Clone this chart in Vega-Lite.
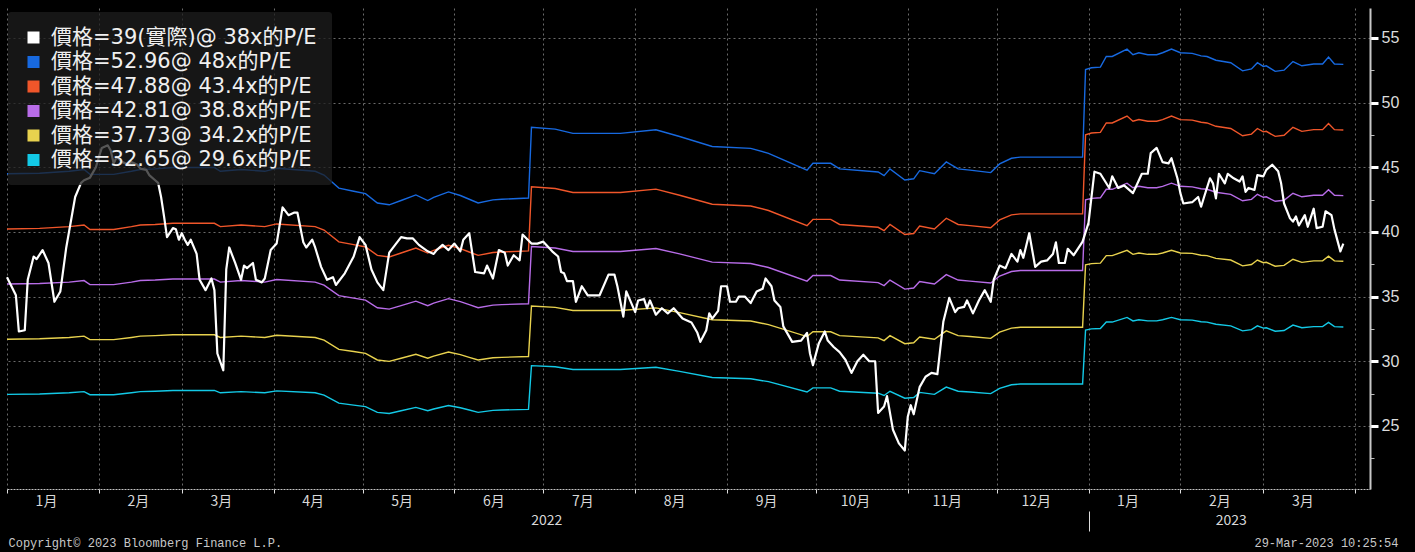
{
  "$schema": "https://vega.github.io/schema/vega-lite/v6.json",
  "width": 1363,
  "height": 481,
  "autosize": {"type": "none"},
  "padding": {"left": 7, "top": 8, "right": 45, "bottom": 63},
  "background": "#000000",
  "config": {"view": {"stroke": null}},
  "data": {"values": [
    {"t":"2022-01-01","w":36.5},{"t":"2022-01-04","w":35.1},{"t":"2022-01-05","w":32.3},{"t":"2022-01-07","w":32.4},{"t":"2022-01-08","w":36.3},{"t":"2022-01-10","w":38.1},{"t":"2022-01-11","w":37.9},{"t":"2022-01-13","w":38.6},{"t":"2022-01-15","w":37.6},{"t":"2022-01-17","w":34.6},{"t":"2022-01-19","w":35.4},{"t":"2022-01-21","w":38.8},{"t":"2022-01-24","w":42.7},{"t":"2022-01-26","w":43.8},{"t":"2022-01-27","w":44.0},{"t":"2022-01-29","w":44.2},{"t":"2022-01-31","w":45.0},
    {"t":"2022-02-01","w":45.8},{"t":"2022-02-02","w":46.5},{"t":"2022-02-04","w":46.7},{"t":"2022-02-05","w":46.3},{"t":"2022-02-06","w":45.3},{"t":"2022-02-07","w":45.8},{"t":"2022-02-09","w":45.4},{"t":"2022-02-11","w":45.2},{"t":"2022-02-12","w":45.4},{"t":"2022-02-14","w":45.2},{"t":"2022-02-15","w":44.9},{"t":"2022-02-17","w":44.8},{"t":"2022-02-18","w":44.4},{"t":"2022-02-20","w":44.0},{"t":"2022-02-21","w":43.8},{"t":"2022-02-22","w":42.7},{"t":"2022-02-23","w":41.2},{"t":"2022-02-24","w":39.6},{"t":"2022-02-26","w":40.3},{"t":"2022-02-27","w":40.2},{"t":"2022-02-28","w":39.4},
    {"t":"2022-03-01","w":39.9},{"t":"2022-03-02","w":39.4},{"t":"2022-03-03","w":39.0},{"t":"2022-03-04","w":39.4},{"t":"2022-03-06","w":38.3},{"t":"2022-03-07","w":36.3},{"t":"2022-03-09","w":35.5},{"t":"2022-03-11","w":36.4},{"t":"2022-03-12","w":35.5},{"t":"2022-03-13","w":30.6},{"t":"2022-03-15","w":29.3},{"t":"2022-03-16","w":37.1},{"t":"2022-03-17","w":38.8},{"t":"2022-03-19","w":37.6},{"t":"2022-03-21","w":36.3},{"t":"2022-03-22","w":37.4},{"t":"2022-03-23","w":37.2},{"t":"2022-03-25","w":37.6},{"t":"2022-03-26","w":36.3},{"t":"2022-03-28","w":36.1},{"t":"2022-03-29","w":36.4},{"t":"2022-03-31","w":38.6},
    {"t":"2022-04-02","w":39.1},{"t":"2022-04-04","w":41.9},{"t":"2022-04-06","w":41.3},{"t":"2022-04-08","w":41.5},{"t":"2022-04-09","w":41.5},{"t":"2022-04-11","w":39.2},{"t":"2022-04-12","w":38.8},{"t":"2022-04-14","w":39.4},{"t":"2022-04-15","w":38.8},{"t":"2022-04-17","w":37.3},{"t":"2022-04-19","w":36.3},{"t":"2022-04-21","w":36.5},{"t":"2022-04-22","w":35.9},{"t":"2022-04-25","w":36.8},{"t":"2022-04-28","w":38.1},{"t":"2022-04-30","w":39.6},
    {"t":"2022-05-02","w":39.0},{"t":"2022-05-04","w":37.1},{"t":"2022-05-06","w":36.1},{"t":"2022-05-08","w":35.5},{"t":"2022-05-10","w":38.4},{"t":"2022-05-12","w":39.0},{"t":"2022-05-14","w":39.6},{"t":"2022-05-16","w":39.5},{"t":"2022-05-18","w":39.5},{"t":"2022-05-20","w":39.0},{"t":"2022-05-23","w":38.5},{"t":"2022-05-25","w":38.3},{"t":"2022-05-26","w":38.6},{"t":"2022-05-28","w":39.0},{"t":"2022-05-30","w":38.6},
    {"t":"2022-06-01","w":39.1},{"t":"2022-06-03","w":38.5},{"t":"2022-06-04","w":39.4},{"t":"2022-06-06","w":39.9},{"t":"2022-06-08","w":36.9},{"t":"2022-06-11","w":36.8},{"t":"2022-06-12","w":37.4},{"t":"2022-06-14","w":36.4},{"t":"2022-06-16","w":38.6},{"t":"2022-06-18","w":38.4},{"t":"2022-06-19","w":37.4},{"t":"2022-06-21","w":38.2},{"t":"2022-06-23","w":37.8},{"t":"2022-06-24","w":39.8},{"t":"2022-06-27","w":39.1},{"t":"2022-06-29","w":39.1},
    {"t":"2022-07-01","w":39.25},{"t":"2022-07-04","w":38.5},{"t":"2022-07-06","w":38.1},{"t":"2022-07-07","w":36.9},{"t":"2022-07-08","w":36.8},{"t":"2022-07-09","w":36.2},{"t":"2022-07-11","w":36.2},{"t":"2022-07-12","w":34.6},{"t":"2022-07-14","w":35.8},{"t":"2022-07-16","w":35.1},{"t":"2022-07-20","w":35.1},{"t":"2022-07-23","w":36.7},{"t":"2022-07-25","w":36.7},{"t":"2022-07-26","w":35.8},{"t":"2022-07-28","w":33.45},{"t":"2022-07-29","w":35.4},
    {"t":"2022-08-01","w":33.8},{"t":"2022-08-02","w":34.7},{"t":"2022-08-04","w":34.8},{"t":"2022-08-05","w":34.1},{"t":"2022-08-06","w":34.7},{"t":"2022-08-08","w":33.6},{"t":"2022-08-10","w":34.1},{"t":"2022-08-12","w":33.7},{"t":"2022-08-14","w":34.1},{"t":"2022-08-17","w":33.3},{"t":"2022-08-20","w":33.0},{"t":"2022-08-22","w":32.2},{"t":"2022-08-23","w":31.5},{"t":"2022-08-25","w":32.4},{"t":"2022-08-26","w":33.7},{"t":"2022-08-27","w":33.3},{"t":"2022-08-29","w":33.9},{"t":"2022-08-30","w":35.8},
    {"t":"2022-09-01","w":35.8},{"t":"2022-09-02","w":34.6},{"t":"2022-09-04","w":34.6},{"t":"2022-09-05","w":35.0},{"t":"2022-09-07","w":35.0},{"t":"2022-09-09","w":34.5},{"t":"2022-09-11","w":35.4},{"t":"2022-09-13","w":35.6},{"t":"2022-09-14","w":36.4},{"t":"2022-09-16","w":35.8},{"t":"2022-09-17","w":34.7},{"t":"2022-09-19","w":34.2},{"t":"2022-09-20","w":32.7},{"t":"2022-09-23","w":31.5},{"t":"2022-09-26","w":31.6},{"t":"2022-09-28","w":32.2},{"t":"2022-09-29","w":30.6},{"t":"2022-09-30","w":29.7},
    {"t":"2022-10-02","w":31.4},{"t":"2022-10-04","w":32.3},{"t":"2022-10-05","w":31.6},{"t":"2022-10-07","w":31.1},{"t":"2022-10-09","w":30.7},{"t":"2022-10-11","w":30.1},{"t":"2022-10-13","w":29.1},{"t":"2022-10-15","w":30.0},{"t":"2022-10-17","w":30.5},{"t":"2022-10-19","w":30.0},{"t":"2022-10-21","w":30.0},{"t":"2022-10-22","w":26.0},{"t":"2022-10-24","w":26.5},{"t":"2022-10-25","w":27.3},{"t":"2022-10-27","w":24.7},{"t":"2022-10-29","w":23.65},{"t":"2022-10-31","w":23.1},
    {"t":"2022-11-01","w":25.7},{"t":"2022-11-02","w":26.6},{"t":"2022-11-03","w":25.9},{"t":"2022-11-05","w":28.0},{"t":"2022-11-07","w":28.8},{"t":"2022-11-09","w":29.1},{"t":"2022-11-11","w":29.0},{"t":"2022-11-13","w":33.05},{"t":"2022-11-15","w":34.9},{"t":"2022-11-17","w":33.8},{"t":"2022-11-18","w":34.1},{"t":"2022-11-20","w":34.2},{"t":"2022-11-21","w":34.7},{"t":"2022-11-23","w":33.7},{"t":"2022-11-25","w":34.7},{"t":"2022-11-27","w":35.5},{"t":"2022-11-29","w":34.6},{"t":"2022-11-30","w":36.3},
    {"t":"2022-12-02","w":37.4},{"t":"2022-12-04","w":37.2},{"t":"2022-12-06","w":38.3},{"t":"2022-12-08","w":37.7},{"t":"2022-12-09","w":38.6},{"t":"2022-12-10","w":38.0},{"t":"2022-12-12","w":39.9},{"t":"2022-12-14","w":37.3},{"t":"2022-12-16","w":37.7},{"t":"2022-12-18","w":37.8},{"t":"2022-12-20","w":38.3},{"t":"2022-12-21","w":39.2},{"t":"2022-12-22","w":37.6},{"t":"2022-12-24","w":37.6},{"t":"2022-12-25","w":38.7},{"t":"2022-12-27","w":38.2},{"t":"2022-12-29","w":38.9},{"t":"2022-12-30","w":39.25},
    {"t":"2023-01-01","w":40.7},{"t":"2023-01-02","w":42.7},{"t":"2023-01-03","w":44.66},{"t":"2023-01-05","w":44.5},{"t":"2023-01-08","w":43.4},{"t":"2023-01-09","w":44.3},{"t":"2023-01-11","w":43.4},{"t":"2023-01-13","w":43.6},{"t":"2023-01-16","w":43.0},{"t":"2023-01-17","w":43.5},{"t":"2023-01-19","w":44.5},{"t":"2023-01-21","w":44.5},{"t":"2023-01-22","w":46.1},{"t":"2023-01-24","w":46.5},{"t":"2023-01-26","w":45.4},{"t":"2023-01-28","w":45.3},{"t":"2023-01-29","w":45.7},{"t":"2023-01-31","w":44.15},
    {"t":"2023-02-01","w":43.0},{"t":"2023-02-02","w":42.2},{"t":"2023-02-05","w":42.3},{"t":"2023-02-07","w":42.7},{"t":"2023-02-08","w":41.95},{"t":"2023-02-09","w":42.7},{"t":"2023-02-11","w":44.15},{"t":"2023-02-12","w":43.76},{"t":"2023-02-13","w":42.6},{"t":"2023-02-14","w":44.5},{"t":"2023-02-16","w":43.76},{"t":"2023-02-17","w":44.5},{"t":"2023-02-19","w":44.15},{"t":"2023-02-21","w":43.9},{"t":"2023-02-22","w":44.3},{"t":"2023-02-23","w":43.1},{"t":"2023-02-24","w":43.4},{"t":"2023-02-26","w":43.25},{"t":"2023-02-27","w":44.4},
    {"t":"2023-03-01","w":44.3},{"t":"2023-03-02","w":44.8},{"t":"2023-03-04","w":45.2},{"t":"2023-03-06","w":44.7},{"t":"2023-03-07","w":43.76},{"t":"2023-03-08","w":42.2},{"t":"2023-03-10","w":41.05},{"t":"2023-03-11","w":40.8},{"t":"2023-03-12","w":41.2},{"t":"2023-03-13","w":40.5},{"t":"2023-03-15","w":41.3},{"t":"2023-03-16","w":40.4},{"t":"2023-03-18","w":41.8},{"t":"2023-03-19","w":40.3},{"t":"2023-03-21","w":40.4},{"t":"2023-03-22","w":41.6},{"t":"2023-03-24","w":41.3},{"t":"2023-03-25","w":40.2},{"t":"2023-03-27","w":38.5},{"t":"2023-03-28","w":39.1},
    {"t":"2022-01-01","b":44.50,"o":40.23,"p":35.97,"yl":31.70,"c":27.44},
    {"t":"2022-01-12","b":44.54,"o":40.28,"p":36.01,"yl":31.74,"c":27.47},
    {"t":"2022-01-22","b":44.69,"o":40.41,"p":36.12,"yl":31.84,"c":27.56},
    {"t":"2022-01-27","b":44.83,"o":40.54,"p":36.24,"yl":31.94,"c":27.65},
    {"t":"2022-01-29","b":44.45,"o":40.19,"p":35.93,"yl":31.67,"c":27.41},
    {"t":"2022-02-06","b":44.45,"o":40.19,"p":35.93,"yl":31.67,"c":27.41},
    {"t":"2022-02-12","b":44.69,"o":40.41,"p":36.12,"yl":31.84,"c":27.56},
    {"t":"2022-02-15","b":44.83,"o":40.54,"p":36.24,"yl":31.94,"c":27.65},
    {"t":"2022-02-20","b":44.88,"o":40.58,"p":36.28,"yl":31.98,"c":27.68},
    {"t":"2022-02-26","b":44.98,"o":40.67,"p":36.36,"yl":32.05,"c":27.74},
    {"t":"2022-03-12","b":44.98,"o":40.67,"p":36.36,"yl":32.05,"c":27.74},
    {"t":"2022-03-14","b":44.69,"o":40.41,"p":36.12,"yl":31.84,"c":27.56},
    {"t":"2022-03-21","b":44.83,"o":40.54,"p":36.24,"yl":31.94,"c":27.65},
    {"t":"2022-03-29","b":44.69,"o":40.41,"p":36.12,"yl":31.84,"c":27.56},
    {"t":"2022-04-02","b":44.93,"o":40.62,"p":36.32,"yl":32.01,"c":27.71},
    {"t":"2022-04-15","b":44.69,"o":40.41,"p":36.12,"yl":31.84,"c":27.56},
    {"t":"2022-04-18","b":44.40,"o":40.15,"p":35.89,"yl":31.64,"c":27.38},
    {"t":"2022-04-23","b":43.39,"o":39.23,"p":35.08,"yl":30.92,"c":26.76},
    {"t":"2022-04-28","b":43.15,"o":39.02,"p":34.88,"yl":30.75,"c":26.61},
    {"t":"2022-05-02","b":42.96,"o":38.84,"p":34.73,"yl":30.61,"c":26.49},
    {"t":"2022-05-06","b":42.24,"o":38.19,"p":34.14,"yl":30.10,"c":26.05},
    {"t":"2022-05-10","b":42.10,"o":38.06,"p":34.03,"yl":29.99,"c":25.96},
    {"t":"2022-05-14","b":42.43,"o":38.37,"p":34.30,"yl":30.23,"c":26.17},
    {"t":"2022-05-19","b":42.86,"o":38.76,"p":34.65,"yl":30.54,"c":26.43},
    {"t":"2022-05-23","b":42.43,"o":38.37,"p":34.30,"yl":30.23,"c":26.17},
    {"t":"2022-05-25","b":42.67,"o":38.58,"p":34.49,"yl":30.40,"c":26.31},
    {"t":"2022-05-30","b":43.10,"o":38.97,"p":34.84,"yl":30.71,"c":26.58},
    {"t":"2022-06-03","b":42.82,"o":38.71,"p":34.61,"yl":30.51,"c":26.40},
    {"t":"2022-06-06","b":42.53,"o":38.45,"p":34.38,"yl":30.30,"c":26.23},
    {"t":"2022-06-09","b":42.24,"o":38.19,"p":34.14,"yl":30.10,"c":26.05},
    {"t":"2022-06-14","b":42.48,"o":38.41,"p":34.34,"yl":30.27,"c":26.20},
    {"t":"2022-06-17","b":42.53,"o":38.45,"p":34.38,"yl":30.30,"c":26.23},
    {"t":"2022-06-26","b":42.62,"o":38.54,"p":34.45,"yl":30.37,"c":26.28},
    {"t":"2022-06-27","b":48.10,"o":43.49,"p":38.88,"yl":34.27,"c":29.66},
    {"t":"2022-07-05","b":47.95,"o":43.36,"p":38.76,"yl":34.17,"c":29.57},
    {"t":"2022-07-11","b":47.62,"o":43.05,"p":38.49,"yl":33.93,"c":29.36},
    {"t":"2022-07-27","b":47.62,"o":43.05,"p":38.49,"yl":33.93,"c":29.36},
    {"t":"2022-08-08","b":47.90,"o":43.31,"p":38.72,"yl":34.13,"c":29.54},
    {"t":"2022-08-16","b":47.38,"o":42.84,"p":38.30,"yl":33.76,"c":29.22},
    {"t":"2022-08-27","b":46.61,"o":42.14,"p":37.67,"yl":33.21,"c":28.74},
    {"t":"2022-09-09","b":46.46,"o":42.01,"p":37.56,"yl":33.11,"c":28.65},
    {"t":"2022-09-15","b":46.08,"o":41.66,"p":37.25,"yl":32.83,"c":28.42},
    {"t":"2022-09-28","b":44.78,"o":40.49,"p":36.20,"yl":31.91,"c":27.62},
    {"t":"2022-09-30","b":45.31,"o":40.97,"p":36.63,"yl":32.28,"c":27.94},
    {"t":"2022-10-06","b":45.31,"o":40.97,"p":36.63,"yl":32.28,"c":27.94},
    {"t":"2022-10-09","b":44.88,"o":40.58,"p":36.28,"yl":31.98,"c":27.68},
    {"t":"2022-10-22","b":44.64,"o":40.36,"p":36.08,"yl":31.81,"c":27.53},
    {"t":"2022-10-24","b":44.35,"o":40.10,"p":35.85,"yl":31.60,"c":27.35},
    {"t":"2022-10-26","b":44.88,"o":40.58,"p":36.28,"yl":31.98,"c":27.68},
    {"t":"2022-10-31","b":44.02,"o":39.80,"p":35.58,"yl":31.36,"c":27.14},
    {"t":"2022-11-03","b":44.11,"o":39.88,"p":35.66,"yl":31.43,"c":27.20},
    {"t":"2022-11-05","b":44.74,"o":40.45,"p":36.16,"yl":31.87,"c":27.59},
    {"t":"2022-11-10","b":44.50,"o":40.23,"p":35.97,"yl":31.70,"c":27.44},
    {"t":"2022-11-14","b":45.41,"o":41.06,"p":36.70,"yl":32.35,"c":28.00},
    {"t":"2022-11-18","b":44.88,"o":40.58,"p":36.28,"yl":31.98,"c":27.68},
    {"t":"2022-11-22","b":44.78,"o":40.49,"p":36.20,"yl":31.91,"c":27.62},
    {"t":"2022-11-29","b":44.59,"o":40.32,"p":36.05,"yl":31.77,"c":27.50},
    {"t":"2022-12-02","b":45.26,"o":40.93,"p":36.59,"yl":32.25,"c":27.91},
    {"t":"2022-12-06","b":45.70,"o":41.32,"p":36.94,"yl":32.56,"c":28.18},
    {"t":"2022-12-09","b":45.79,"o":41.40,"p":37.02,"yl":32.63,"c":28.24},
    {"t":"2022-12-30","b":45.79,"o":41.40,"p":37.02,"yl":32.63,"c":28.24},
    {"t":"2022-12-31","b":52.56,"o":47.52,"p":42.49,"yl":37.45,"c":32.41},
    {"t":"2023-01-02","b":52.70,"o":47.65,"p":42.60,"yl":37.55,"c":32.50},
    {"t":"2023-01-05","b":52.75,"o":47.70,"p":42.64,"yl":37.59,"c":32.53},
    {"t":"2023-01-07","b":53.57,"o":48.43,"p":43.30,"yl":38.17,"c":33.03},
    {"t":"2023-01-09","b":53.57,"o":48.43,"p":43.30,"yl":38.17,"c":33.03},
    {"t":"2023-01-14","b":54.14,"o":48.96,"p":43.77,"yl":38.58,"c":33.39},
    {"t":"2023-01-16","b":53.71,"o":48.56,"p":43.42,"yl":38.27,"c":33.12},
    {"t":"2023-01-18","b":53.86,"o":48.69,"p":43.53,"yl":38.37,"c":33.21},
    {"t":"2023-01-21","b":53.71,"o":48.56,"p":43.42,"yl":38.27,"c":33.12},
    {"t":"2023-01-24","b":53.71,"o":48.56,"p":43.42,"yl":38.27,"c":33.12},
    {"t":"2023-01-26","b":53.86,"o":48.69,"p":43.53,"yl":38.37,"c":33.21},
    {"t":"2023-01-29","b":54.14,"o":48.96,"p":43.77,"yl":38.58,"c":33.39},
    {"t":"2023-02-01","b":53.86,"o":48.69,"p":43.53,"yl":38.37,"c":33.21},
    {"t":"2023-02-05","b":53.81,"o":48.65,"p":43.49,"yl":38.34,"c":33.18},
    {"t":"2023-02-08","b":53.62,"o":48.48,"p":43.34,"yl":38.20,"c":33.06},
    {"t":"2023-02-10","b":53.57,"o":48.43,"p":43.30,"yl":38.17,"c":33.03},
    {"t":"2023-02-13","b":53.28,"o":48.17,"p":43.07,"yl":37.96,"c":32.86},
    {"t":"2023-02-18","b":53.09,"o":48.00,"p":42.91,"yl":37.83,"c":32.74},
    {"t":"2023-02-22","b":52.46,"o":47.44,"p":42.41,"yl":37.38,"c":32.35},
    {"t":"2023-02-25","b":52.61,"o":47.57,"p":42.52,"yl":37.48,"c":32.44},
    {"t":"2023-02-27","b":53.09,"o":48.00,"p":42.91,"yl":37.83,"c":32.74},
    {"t":"2023-03-01","b":52.80,"o":47.74,"p":42.68,"yl":37.62,"c":32.56},
    {"t":"2023-03-02","b":52.85,"o":47.78,"p":42.72,"yl":37.65,"c":32.59},
    {"t":"2023-03-05","b":52.42,"o":47.39,"p":42.37,"yl":37.35,"c":32.32},
    {"t":"2023-03-08","b":52.51,"o":47.48,"p":42.45,"yl":37.41,"c":32.38},
    {"t":"2023-03-11","b":53.18,"o":48.09,"p":42.99,"yl":37.89,"c":32.80},
    {"t":"2023-03-14","b":52.85,"o":47.78,"p":42.72,"yl":37.65,"c":32.59},
    {"t":"2023-03-18","b":52.99,"o":47.91,"p":42.84,"yl":37.76,"c":32.68},
    {"t":"2023-03-21","b":52.99,"o":47.91,"p":42.84,"yl":37.76,"c":32.68},
    {"t":"2023-03-23","b":53.52,"o":48.39,"p":43.26,"yl":38.13,"c":33.00},
    {"t":"2023-03-25","b":52.99,"o":47.91,"p":42.84,"yl":37.76,"c":32.68},
    {"t":"2023-03-28","b":52.96,"o":47.88,"p":42.81,"yl":37.73,"c":32.65}
  ]},
  "transform": [
    {"fold": ["w", "b", "o", "p", "yl", "c"], "as": ["k", "v"]},
    {"filter": "isValid(datum.v)"}
  ],
  "encoding": {
    "x": {
      "field": "t", "type": "temporal",
      "scale": {"type": "utc", "domain": [{"year": 2022, "month": 1, "date": 1, "utc": true}, {"year": 2023, "month": 4, "date": 6, "utc": true}]},
      "axis": {
        "values": [
          {"year": 2022, "month": 1, "date": 1, "utc": true}, {"year": 2022, "month": 2, "date": 1, "utc": true}, {"year": 2022, "month": 3, "date": 1, "utc": true},
          {"year": 2022, "month": 4, "date": 1, "utc": true}, {"year": 2022, "month": 5, "date": 1, "utc": true}, {"year": 2022, "month": 6, "date": 1, "utc": true},
          {"year": 2022, "month": 7, "date": 1, "utc": true}, {"year": 2022, "month": 8, "date": 1, "utc": true}, {"year": 2022, "month": 9, "date": 1, "utc": true},
          {"year": 2022, "month": 10, "date": 1, "utc": true}, {"year": 2022, "month": 11, "date": 1, "utc": true}, {"year": 2022, "month": 12, "date": 1, "utc": true},
          {"year": 2023, "month": 1, "date": 1, "utc": true}, {"year": 2023, "month": 2, "date": 1, "utc": true}, {"year": 2023, "month": 3, "date": 1, "utc": true},
          {"year": 2023, "month": 4, "date": 1, "utc": true},
          {"year": 2022, "month": 7, "date": 2, "utc": true}, {"year": 2023, "month": 2, "date": 18, "utc": true}
        ],
        "labelExpr": "utcdate(datum.value) != 1 ? utcFormat(datum.value, '%Y') : (datum.value >= utc(2023, 3, 1) ? '' : (utcmonth(datum.value) + 1) + '月')",
        "labelOverlap": false,
        "labelFlush": false,
        "labelBound": false,
        "labelFont": "Noto Sans CJK TC",
        "labelFontSize": 14,
        "labelColor": "#d8d8d8",
        "labelBaseline": "top",
        "labelOffset": {"condition": {"test": "utcdate(datum.value) != 1", "value": 0}, "value": 39},
        "labelPadding": {"condition": [
          {"test": "utcdate(datum.value) != 1", "value": 20},
          {"test": "utcyear(datum.value) == 2023 && utcmonth(datum.value) == 0", "value": -37}
        ], "value": 1},
        "tickColor": "#dddddd",
        "tickWidth": 1,
        "tickSize": {"condition": {"test": "utcyear(datum.value) == 2023 && utcmonth(datum.value) == 0 && utcdate(datum.value) == 1", "value": 42}, "value": 4},
        "tickDash": {"condition": {"test": "utcyear(datum.value) == 2023 && utcmonth(datum.value) == 0 && utcdate(datum.value) == 1", "value": [4, 18, 20]}, "value": []},
        "tickOpacity": {"condition": {"test": "utcdate(datum.value) != 1", "value": 0}, "value": 1},
        "grid": true,
        "gridColor": "#6a6a6a",
        "gridDash": [2, 3],
        "gridWidth": 1,
        "gridOpacity": {"condition": {"test": "utcdate(datum.value) != 1", "value": 0}, "value": 1},
        "domain": true,
        "domainColor": "#c4c4c4",
        "domainDash": [2, 1],
        "domainWidth": 1,
        "title": "Copyright© 2023 Bloomberg Finance L.P.",
        "titleX": 1,
        "titleY": 57,
        "titleAlign": "left",
        "titleBaseline": "alphabetic",
        "titleFont": "Liberation Mono",
        "titleFontSize": 12,
        "titleFontWeight": "normal",
        "titleColor": "#c8c8c8"
      }
    },
    "y": {
      "field": "v", "type": "quantitative",
      "scale": {"domain": [20.12, 57.32], "nice": false, "zero": false},
      "axis": {
        "orient": "right",
        "values": [22.5, 25, 27.5, 30, 32.5, 35, 37.5, 40, 42.5, 45, 47.5, 50, 52.5, 55],
        "labelExpr": "datum.value % 5 == 0 ? datum.label : ''",
        "labelFont": "Liberation Sans",
        "labelFontSize": 16,
        "labelColor": "#dcdcdc",
        "labelPadding": 3,
        "labelFlush": false,
        "labelOverlap": false,
        "tickColor": {"condition": {"test": "datum.value % 5 != 0", "value": "#bbbbbb"}, "value": "#ffffff"},
        "tickSize": {"condition": {"test": "datum.value % 5 != 0", "value": 4}, "value": 8},
        "tickWidth": {"condition": {"test": "datum.value % 5 != 0", "value": 1}, "value": 3},
        "grid": true,
        "gridColor": "#6a6a6a",
        "gridDash": [2, 3],
        "gridWidth": 1,
        "gridOpacity": {"condition": {"test": "datum.value % 5 != 0", "value": 0}, "value": 1},
        "domain": true,
        "domainColor": "#c8c8c8",
        "domainWidth": 2,
        "title": "29-Mar-2023 10:25:54",
        "titleAngle": 0,
        "titleX": 28,
        "titleY": 538,
        "titleAlign": "right",
        "titleBaseline": "alphabetic",
        "titleFont": "Liberation Mono",
        "titleFontSize": 12,
        "titleFontWeight": "normal",
        "titleColor": "#c8c8c8"
      }
    },
    "color": {
      "field": "k", "type": "nominal",
      "scale": {"domain": ["w", "b", "o", "p", "yl", "c"], "range": ["#ffffff", "#1769e0", "#f0562a", "#b86ce8", "#e8d24e", "#13c9e6"]},
      "legend": {
        "orient": "none",
        "legendX": 1,
        "legendY": 4,
        "title": null,
        "fillColor": "rgba(30,30,30,0.75)",
        "padding": 15,
        "cornerRadius": 3,
        "symbolType": "square",
        "symbolSize": 144,
        "symbolStrokeWidth": 0,
        "labelFont": "DejaVu Sans, Noto Sans CJK TC",
        "labelFontSize": 21,
        "labelColor": "#f0f0f0",
        "labelOffset": 7,
        "labelLimit": 400,
        "rowPadding": 2.5,
        "labelExpr": "datum.label == 'w' ? '價格=39(實際)@ 38x的P/E' : datum.label == 'b' ? '價格=52.96@ 48x的P/E' : datum.label == 'o' ? '價格=47.88@ 43.4x的P/E' : datum.label == 'p' ? '價格=42.81@ 38.8x的P/E' : datum.label == 'yl' ? '價格=37.73@ 34.2x的P/E' : '價格=32.65@ 29.6x的P/E'",
        "encode": {"symbols": {"update": {"fill": {"scale": "color", "field": "value"}, "fillOpacity": {"value": 1}, "strokeWidth": {"value": 0}}}}
      }
    }
  },
  "layer": [
    {"transform": [{"filter": "datum.k != 'w'"}], "mark": {"type": "line", "strokeWidth": 1.4}},
    {"transform": [{"filter": "datum.k == 'w'"}], "mark": {"type": "line", "strokeWidth": 2.2, "strokeJoin": "round"}}
  ]
}
